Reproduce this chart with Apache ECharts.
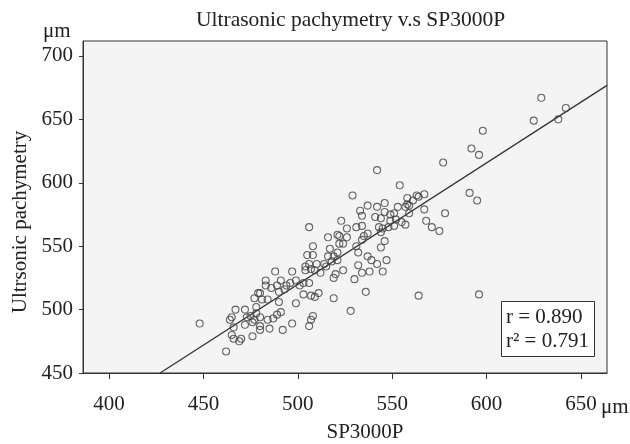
<!DOCTYPE html>
<html>
<head>
<meta charset="utf-8">
<script src="https://cdn.jsdelivr.net/npm/echarts@6/dist/echarts.min.js"></script>
<style>html,body{margin:0;padding:0;background:#fff;}#c{width:630px;height:444px;}</style>
</head>
<body>
<div id="c"></div>
<script>
// ---- data ----
const titleText = 'Ultrasonic pachymetry v.s SP3000P';
const xName = 'SP3000P';
const yName = 'Ultrsonic pachymetry';
const unitLabel = 'μm';
const xTicks = [400, 450, 500, 550, 600, 650];
const yTicks = [450, 500, 550, 600, 650, 700];
const statR = 'r = 0.890';
const statR2 = 'r² = 0.791';
const regSlope = 0.958;
const regIntercept = 40.9;

const sp3000p = [
  629,642,638,625,598,592,596,577,567,567,591,595,578,568,571,575,596,
  542,554,529,537,546,533,534,542,541,544,546,549,551,553,558,563,564,558,557,559,552,549,557,555,523,506,526,531,534,543,545,548,551,561,559,
  516,521,522,526,522,524,535,534,537,531,546,544,544,508,517,521,505,508,532,537,539,542,547,545,538,534,519,516,521,518,514,510,506,504,504,507,512,509,515,524,532,530,520,519,
  488,497,491,483,499,501,503,506,494,496,489,483,486,493,490,480,479,477,481,484,490,507,509,511,503,519,536,499,478,467,472,478,475,473,477,480,484,487,489,491,508,507,
  465,464,472,476,480,480,485,492,497,506,466,465,466,469,470,476,462,448,528,564
];
const ultrasonic = [
  667,659,650,649,641,627,622,616,591,579,592,586,576,570,565,562,512,
  610,598,590,582,584,578,574,581,573,572,577,575,576,581,588,590,589,583,581,576,571,570,567,569,570,565,564,565,566,565,564,565,566,586,582,
  557,559,558,557,552,552,558,555,560,550,554,549,561,550,548,545,543,543,545,542,539,536,539,530,530,529,542,542,539,538,536,536,536,534,531,532,529,531,534,531,535,524,528,525,
  530,530,523,523,523,519,521,521,519,521,519,519,517,516,514,513,513,509,508,508,506,511,510,513,512,509,514,505,502,500,500,497,495,494,492,494,492,493,496,498,495,492,
  494,492,488,490,487,484,485,484,489,487,486,480,477,475,477,479,467,489,499,511
];

const xMin = 386.2, xMax = 663.8, yMin = 450, yMax = 711.8;
const points = sp3000p.map((x, i) => [x, ultrasonic[i]]);
const lineStartX = (yMin - regIntercept) / regSlope;
const regLine = [[lineStartX, yMin], [xMax, regSlope * xMax + regIntercept]];

const serif = 'Liberation Serif';
const txt = '#222';
const chart = echarts.init(document.getElementById('c'), null, {renderer: 'canvas'});
chart.setOption({
  animation: false,
  backgroundColor: '#fff',
  title: [
    {text: titleText, left: 196, top: 9, padding: 0,
     textStyle: {fontFamily: serif, fontSize: 21.5, fontWeight: 'normal', color: txt}},
    {text: statR + '\n' + statR2, left: 501, top: 301, padding: [4, 6, 4, 5],
     borderColor: '#333', borderWidth: 1, backgroundColor: '#fff',
     textStyle: {fontFamily: serif, fontSize: 21, fontWeight: 'normal', color: txt, lineHeight: 24}}
  ],
  grid: {left: 83, right: 23, top: 41, bottom: 71, show: true, containLabel: false,
         outerBoundsMode: 'none',
         backgroundColor: '#f4f4f4', borderColor: '#333', borderWidth: 1},
  xAxis: {
    type: 'value', min: xMin, max: xMax,
    name: xName, nameLocation: 'middle', nameGap: 49,
    nameTextStyle: {fontFamily: serif, fontSize: 21, color: txt, padding: [0, 0, 0, 40]},
    axisLine: {show: true, lineStyle: {color: '#333', width: 1}},
    axisTick: {show: true, length: 6, customValues: xTicks, lineStyle: {color: '#333'}},
    axisLabel: {customValues: xTicks, margin: 21, fontFamily: serif, fontSize: 21, color: txt},
    splitLine: {show: false}
  },
  yAxis: {
    type: 'value', min: yMin, max: yMax,
    name: yName, nameLocation: 'middle', nameGap: 50,
    nameTextStyle: {fontFamily: serif, fontSize: 21, color: txt, padding: [0, 30, 0, 0]},
    axisLine: {show: true, lineStyle: {color: '#333', width: 1}},
    axisTick: {show: true, length: 4, customValues: yTicks, lineStyle: {color: '#333'}},
    axisLabel: {customValues: yTicks, margin: 10, fontFamily: serif, fontSize: 21, color: txt},
    splitLine: {show: false}
  },
  graphic: [
    {type: 'text', left: 43, top: 21, style: {text: unitLabel, font: '21px "Liberation Serif"', fill: txt}},
    {type: 'text', left: 601, top: 397, style: {text: unitLabel, font: '21px "Liberation Serif"', fill: txt}}
  ],
  series: [
    {type: 'line', data: regLine, symbol: 'none', silent: true,
     lineStyle: {color: '#333', width: 1.3}, z: 1},
    {type: 'scatter', data: points, symbol: 'circle', symbolSize: 7,
     itemStyle: {color: 'rgba(0,0,0,0)', borderColor: '#444', borderWidth: 1.1}, z: 2}
  ]
});
</script>
</body>
</html>
